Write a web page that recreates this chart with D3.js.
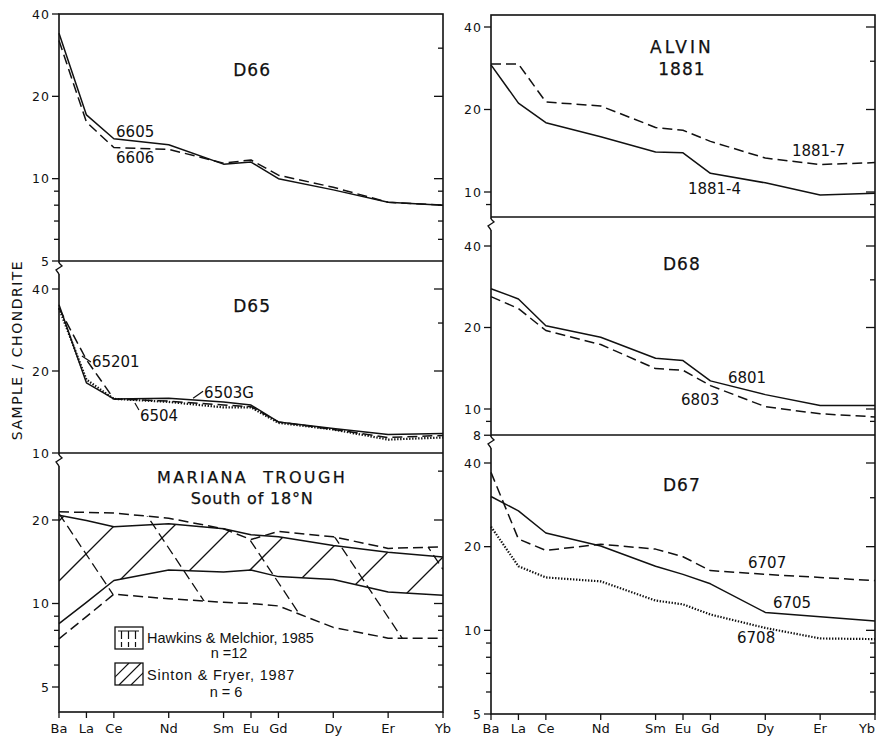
<!DOCTYPE html>
<html>
<head>
<meta charset="utf-8">
<script src="https://cdn.jsdelivr.net/npm/d3@7"></script>
<style>
  body { margin: 0; background: #fff; }
  svg { display: block; }
  text { font-family: "DejaVu Sans", sans-serif; fill: #111; }
</style>
</head>
<body>
<div id="chart"></div>
<script>
// REE elements along x, placed by atomic number
var elements = ["Ba", "La", "Ce", "Nd", "Sm", "Eu", "Gd", "Dy", "Er", "Yb"];
var atomicNumbers = [56, 57, 58, 60, 62, 63, 64, 66, 68, 70];

// D66
var d66_6605 = [34, 17.1, 14.0, 13.3, 11.3, 11.5, 10.0, 9.1, 8.2, 8.0];
var d66_6606 = [32, 16.1, 13.0, 12.8, 11.4, 11.7, 10.3, 9.3, 8.2, 8.0];
// D65
var d65_6503G = [35, 18.1, 15.8, 15.9, 15.4, 15.0, 13.0, 12.3, 11.7, 11.8];
var d65_6504 = [34, 18.6, 15.8, 15.4, 14.7, 14.7, 12.9, 12.2, 11.2, 11.4];
var d65_65201 = [34, 22.0, 15.8, 15.5, 15.0, 14.8, 13.0, 12.2, 11.4, 11.6];
// Mariana Trough envelopes
var hawkinsUpper = [21.4, 21.3, 21.2, 20.3, 18.6, 17.0, 18.2, 17.4, 15.8, 16.0];
var hawkinsLower = [7.46, 8.97, 10.8, 10.4, 10.1, 10.0, 9.8, 8.2, 7.5, 7.5];
var sintonUpper = [20.8, 19.9, 18.9, 19.4, 18.6, 17.7, 17.4, 16.2, 15.3, 14.7];
var sintonLower = [8.46, 10.1, 12.1, 13.2, 13.0, 13.2, 12.5, 12.2, 11.0, 10.7];
// ALVIN 1881
var alvin_1881_4 = [29.1, 21.1, 17.9, 15.9, 14.0, 13.9, 11.7, 10.8, 9.75, 9.9];
var alvin_1881_7 = [29.3, 29.3, 21.3, 20.6, 17.2, 16.8, 15.3, 13.3, 12.6, 12.8];
// D68
var d68_6801 = [27.8, 25.5, 20.3, 18.4, 15.4, 15.1, 12.7, 11.3, 10.3, 10.3];
var d68_6803 = [26.0, 23.5, 19.5, 17.3, 14.1, 13.9, 12.2, 10.2, 9.6, 9.35];
// D67
var d67_6705 = [30.3, 26.9, 22.4, 20.1, 17.0, 15.9, 14.7, 11.6, 11.2, 10.8];
var d67_6707 = [37.0, 21.3, 19.4, 20.4, 19.6, 18.4, 16.4, 15.9, 15.5, 15.1];
var d67_6708 = [23.6, 17.0, 15.5, 15.0, 12.8, 12.4, 11.4, 10.2, 9.35, 9.3];

var tickValues = [5, 6, 7, 8, 9, 10, 20, 30, 40];

var width = 878, height = 737;

var svg = d3.select("#chart").append("svg")
  .attr("width", width)
  .attr("height", height);

var columns = [
  {x: d3.scaleLinear().domain([56, 70]).range([59, 443]), top: 14, bottom: 712, dividers: [261, 453]},
  {x: d3.scaleLinear().domain([56, 70]).range([491, 875]), top: 15, bottom: 714, dividers: [217, 435]}
];

var dashes = {solid: null, dashed: "10,5", dotted: "1.4,1.6"};

var panels = [
  {col: 0, top: 14, bottom: 261, ref: [5, 40], refY: [261, 14], yLabels: [40, 20, 10, 5],
   series: [{values: d66_6605, style: "solid"}, {values: d66_6606, style: "dashed"}],
   title: [{text: "D66", at: [63.04, 23.7]}],
   notes: [{text: "6605", at: [58.08, 14.2]}, {text: "6606", at: [58.08, 11.4]}]},
  {col: 0, top: 261, bottom: 453, ref: [10, 40], refY: [453, 289], yLabels: [40, 20, 10],
   series: [{values: d65_65201, style: "dashed"}, {values: d65_6504, style: "dotted"}, {values: d65_6503G, style: "solid"}],
   title: [{text: "D65", at: [63.04, 32.9]}],
   notes: [{text: "65201", at: [57.2, 20.7], lead: [[-10, -11], [-1, -5]]},
           {text: "6503G", at: [61.29, 15.9], lead: [[-11, 0], [-1, -7]]},
           {text: "6504", at: [58.95, 13.1], lead: [[-5, -18], [-1, -11]]}]},
  {col: 0, top: 453, bottom: 712, ref: [5, 20], refY: [687, 520], yLabels: [20, 10, 5],
   series: [{values: hawkinsUpper, style: "dashed"}, {values: hawkinsLower, style: "dashed"},
            {values: sintonUpper, style: "solid"}, {values: sintonLower, style: "solid"}],
   title: [{text: "MARIANA  TROUGH", at: [63.04, 27.2], spacing: 2.4},
           {text: "South of 18°N", at: [63.04, 22.8], spacing: 0.8}],
   notes: [], mariana: true, xAxis: true},
  {col: 1, top: 15, bottom: 217, ref: [10, 40], refY: [192, 27], yLabels: [40, 20, 10, 8],
   series: [{values: alvin_1881_7, style: "dashed"}, {values: alvin_1881_4, style: "solid"}],
   title: [{text: "ALVIN", at: [62.96, 32.2], spacing: 3}, {text: "1881", at: [62.96, 26.7]}],
   notes: [{text: "1881-7", at: [66.97, 13.5]}, {text: "1881-4", at: [63.18, 9.8]}]},
  {col: 1, top: 217, bottom: 435, ref: [10, 40], refY: [409, 246], yLabels: [40, 20, 10, 8],
   series: [{values: d68_6801, style: "solid"}, {values: d68_6803, style: "dashed"}],
   title: [{text: "D68", at: [62.96, 32.6]}],
   notes: [{text: "6801", at: [64.64, 12.5]}, {text: "6803", at: [62.93, 10.35]}]},
  {col: 1, top: 435, bottom: 714, ref: [5, 40], refY: [714, 463], yLabels: [40, 20, 10, 5],
   series: [{values: d67_6705, style: "solid"}, {values: d67_6707, style: "dashed"}, {values: d67_6708, style: "dotted"}],
   title: [{text: "D67", at: [62.96, 31.7]}],
   notes: [{text: "6707", at: [65.37, 16.8]}, {text: "6705", at: [66.28, 12.0]}, {text: "6708", at: [64.97, 9.0]}],
   xAxis: true}
];

// column frames
columns.forEach(function(c) {
  var r = c.x.range();
  svg.append("rect")
    .attr("x", r[0]).attr("y", c.top)
    .attr("width", r[1] - r[0]).attr("height", c.bottom - c.top)
    .attr("fill", "none").attr("stroke", "#111").attr("stroke-width", 1.6);
  c.dividers.forEach(function(d) {
    svg.append("line")
      .attr("x1", r[0]).attr("x2", r[1]).attr("y1", d).attr("y2", d)
      .attr("stroke", "#111").attr("stroke-width", 1.6);
  });
});

panels.forEach(function(p, pi) {
  var x = columns[p.col].x;
  var y = d3.scaleLog().domain(p.ref).range(p.refY);
  var xr = x.range();
  var g = svg.append("g");

  // y ticks
  tickValues.forEach(function(v) {
    var yy = y(v);
    if (yy < p.top - 0.5 || yy > p.bottom + 0.5) return;
    var labeled = p.yLabels.indexOf(v) >= 0;
    if (labeled || v < 10) {
      g.append("line")
        .attr("x1", xr[0] - (labeled ? 7 : 5)).attr("x2", xr[0])
        .attr("y1", yy).attr("y2", yy)
        .attr("stroke", "#111").attr("stroke-width", 1.3);
    }
    if (labeled) {
      g.append("text")
        .attr("x", xr[0] - 9).attr("y", yy + 4.5)
        .attr("text-anchor", "end")
        .attr("font-size", 12.5)
        .attr("letter-spacing", 1)
        .text(v);
    }
    if (Math.abs(yy - p.top) > 2 && Math.abs(yy - p.bottom) > 2) {
      var major = (v === 10 || v === 20 || v === 40);
      g.append("line")
        .attr("x1", xr[1] - (major ? 9 : 5)).attr("x2", xr[1])
        .attr("y1", yy).attr("y2", yy)
        .attr("stroke", "#111").attr("stroke-width", 1.3);
    }
  });

  var line = d3.line()
    .x(function(d, i) { return x(atomicNumbers[i]); })
    .y(function(d) { return y(d); });

  if (p.mariana) {
    var area = d3.area()
      .x(function(d, i) { return x(atomicNumbers[i]); })
      .y0(function(d) { return y(d[0]); })
      .y1(function(d) { return y(d[1]); });
    var defs = svg.append("defs");
    defs.append("clipPath").attr("id", "clipSinton")
      .append("path").attr("d", area(d3.zip(sintonLower, sintonUpper)));
    defs.append("clipPath").attr("id", "clipHawkins")
      .append("path").attr("d", area(d3.zip(hawkinsLower, hawkinsUpper)));

    // Sinton & Fryer: solid diagonal hatching rising to the right
    var sf = g.append("g").attr("clip-path", "url(#clipSinton)");
    d3.range(-2, 10).forEach(function(k) {
      var c = 640 + 60 * k;
      sf.append("line")
        .attr("x1", xr[0]).attr("y1", c - xr[0])
        .attr("x2", xr[1]).attr("y2", c - xr[1])
        .attr("stroke", "#111").attr("stroke-width", 1.3);
    });
    // Hawkins & Melchior: dashed hatching falling to the right
    var hm = g.append("g").attr("clip-path", "url(#clipHawkins)");
    d3.range(-2, 8).forEach(function(k) {
      var b = 425 - 130 * k;
      hm.append("line")
        .attr("x1", xr[0]).attr("y1", 1.5 * xr[0] + b)
        .attr("x2", xr[1]).attr("y2", 1.5 * xr[1] + b)
        .attr("stroke", "#111").attr("stroke-width", 1.3)
        .attr("stroke-dasharray", "10,5");
    });
  }

  p.series.forEach(function(s) {
    g.append("path")
      .attr("d", line(s.values))
      .attr("fill", "none")
      .attr("stroke", "#111")
      .attr("stroke-width", s.style === "dotted" ? 2.2 : 1.5)
      .attr("stroke-linejoin", "round")
      .attr("stroke-dasharray", dashes[s.style]);
  });

  p.title.forEach(function(t) {
    g.append("text")
      .attr("x", x(t.at[0])).attr("y", y(t.at[1]))
      .attr("text-anchor", "middle")
      .attr("font-size", t.text.length > 5 ? 16 : 17)
      .attr("letter-spacing", t.spacing || 1)
      .attr("stroke", "#111").attr("stroke-width", 0.25)
      .style("white-space", "pre")
      .text(t.text);
  });

  p.notes.forEach(function(n) {
    var tx = x(n.at[0]), ty = y(n.at[1]);
    g.append("text")
      .attr("x", tx).attr("y", ty)
      .attr("font-size", 15)
      .text(n.text);
    if (n.lead) {
      g.append("line")
        .attr("x1", tx + n.lead[0][0]).attr("y1", ty + n.lead[0][1])
        .attr("x2", tx + n.lead[1][0]).attr("y2", ty + n.lead[1][1])
        .attr("stroke", "#111").attr("stroke-width", 1.2);
    }
  });

  if (p.xAxis) {
    atomicNumbers.forEach(function(z, i) {
      g.append("line")
        .attr("x1", x(z)).attr("x2", x(z))
        .attr("y1", p.bottom).attr("y2", p.bottom + 6)
        .attr("stroke", "#111").attr("stroke-width", 1.3);
      // keep the last label inside the page edge
      var lx = Math.min(x(z), width - 11);
      g.append("text")
        .attr("x", lx).attr("y", 733)
        .attr("text-anchor", "middle")
        .attr("font-size", 13)
        .text(elements[i]);
    });
  }
});

// axis breaks (zigzag) just below each divider
columns.forEach(function(c) {
  var x0 = c.x.range()[0];
  c.dividers.forEach(function(d) {
    svg.append("rect")
      .attr("x", x0 - 1.5).attr("y", d + 2)
      .attr("width", 3).attr("height", 11)
      .attr("fill", "#fff");
    svg.append("path")
      .attr("d", "M" + x0 + "," + (d + 2) + " l3,3 l-6,4 l3,4")
      .attr("fill", "none").attr("stroke", "#111").attr("stroke-width", 1.3);
  });
});

// legend for Mariana Trough panel
var legend = svg.append("g").attr("transform", "translate(115,627)");
legend.append("rect").attr("width", 28).attr("height", 22)
  .attr("fill", "none").attr("stroke", "#111").attr("stroke-width", 1.3);
[6, 13, 20].forEach(function(o) {
  legend.append("path")
    .attr("d", "M" + (o - 3) + ",4 h7 M" + (o + 0.5) + ",4 v16")
    .attr("fill", "none").attr("stroke", "#111").attr("stroke-width", 1.2)
    .attr("stroke-dasharray", "8,3");
});
legend.append("text").attr("x", 32).attr("y", 16)
  .style("font-family", "'Liberation Sans', sans-serif")
  .attr("font-size", 14.5).text("Hawkins & Melchior, 1985");
legend.append("text").attr("x", 114).attr("y", 31)
  .attr("text-anchor", "middle")
  .style("font-family", "'Liberation Sans', sans-serif")
  .attr("font-size", 14.5).text("n =12");

var legend2 = svg.append("g").attr("transform", "translate(115,663)");
legend2.append("rect").attr("width", 28).attr("height", 22)
  .attr("fill", "none").attr("stroke", "#111").attr("stroke-width", 1.3);
legend2.append("clipPath").attr("id", "clipLeg")
  .append("rect").attr("width", 28).attr("height", 22);
var lg = legend2.append("g").attr("clip-path", "url(#clipLeg)");
[14, 26, 38].forEach(function(c) {
  lg.append("line").attr("x1", c - 22).attr("y1", 22).attr("x2", c).attr("y2", 0)
    .attr("stroke", "#111").attr("stroke-width", 1.2);
});
legend2.append("text").attr("x", 32).attr("y", 17)
  .style("font-family", "'Liberation Sans', sans-serif")
  .attr("letter-spacing", 0.8)
  .attr("font-size", 14.5).text("Sinton & Fryer, 1987");
legend2.append("text").attr("x", 111).attr("y", 34)
  .attr("text-anchor", "middle")
  .style("font-family", "'Liberation Sans', sans-serif")
  .attr("font-size", 14.5).text("n = 6");

// shared y axis title
svg.append("text")
  .attr("transform", "translate(22,350) rotate(-90)")
  .attr("text-anchor", "middle")
  .attr("font-size", 14)
  .attr("letter-spacing", 1.5)
  .text("SAMPLE / CHONDRITE");
</script>
</body>
</html>
